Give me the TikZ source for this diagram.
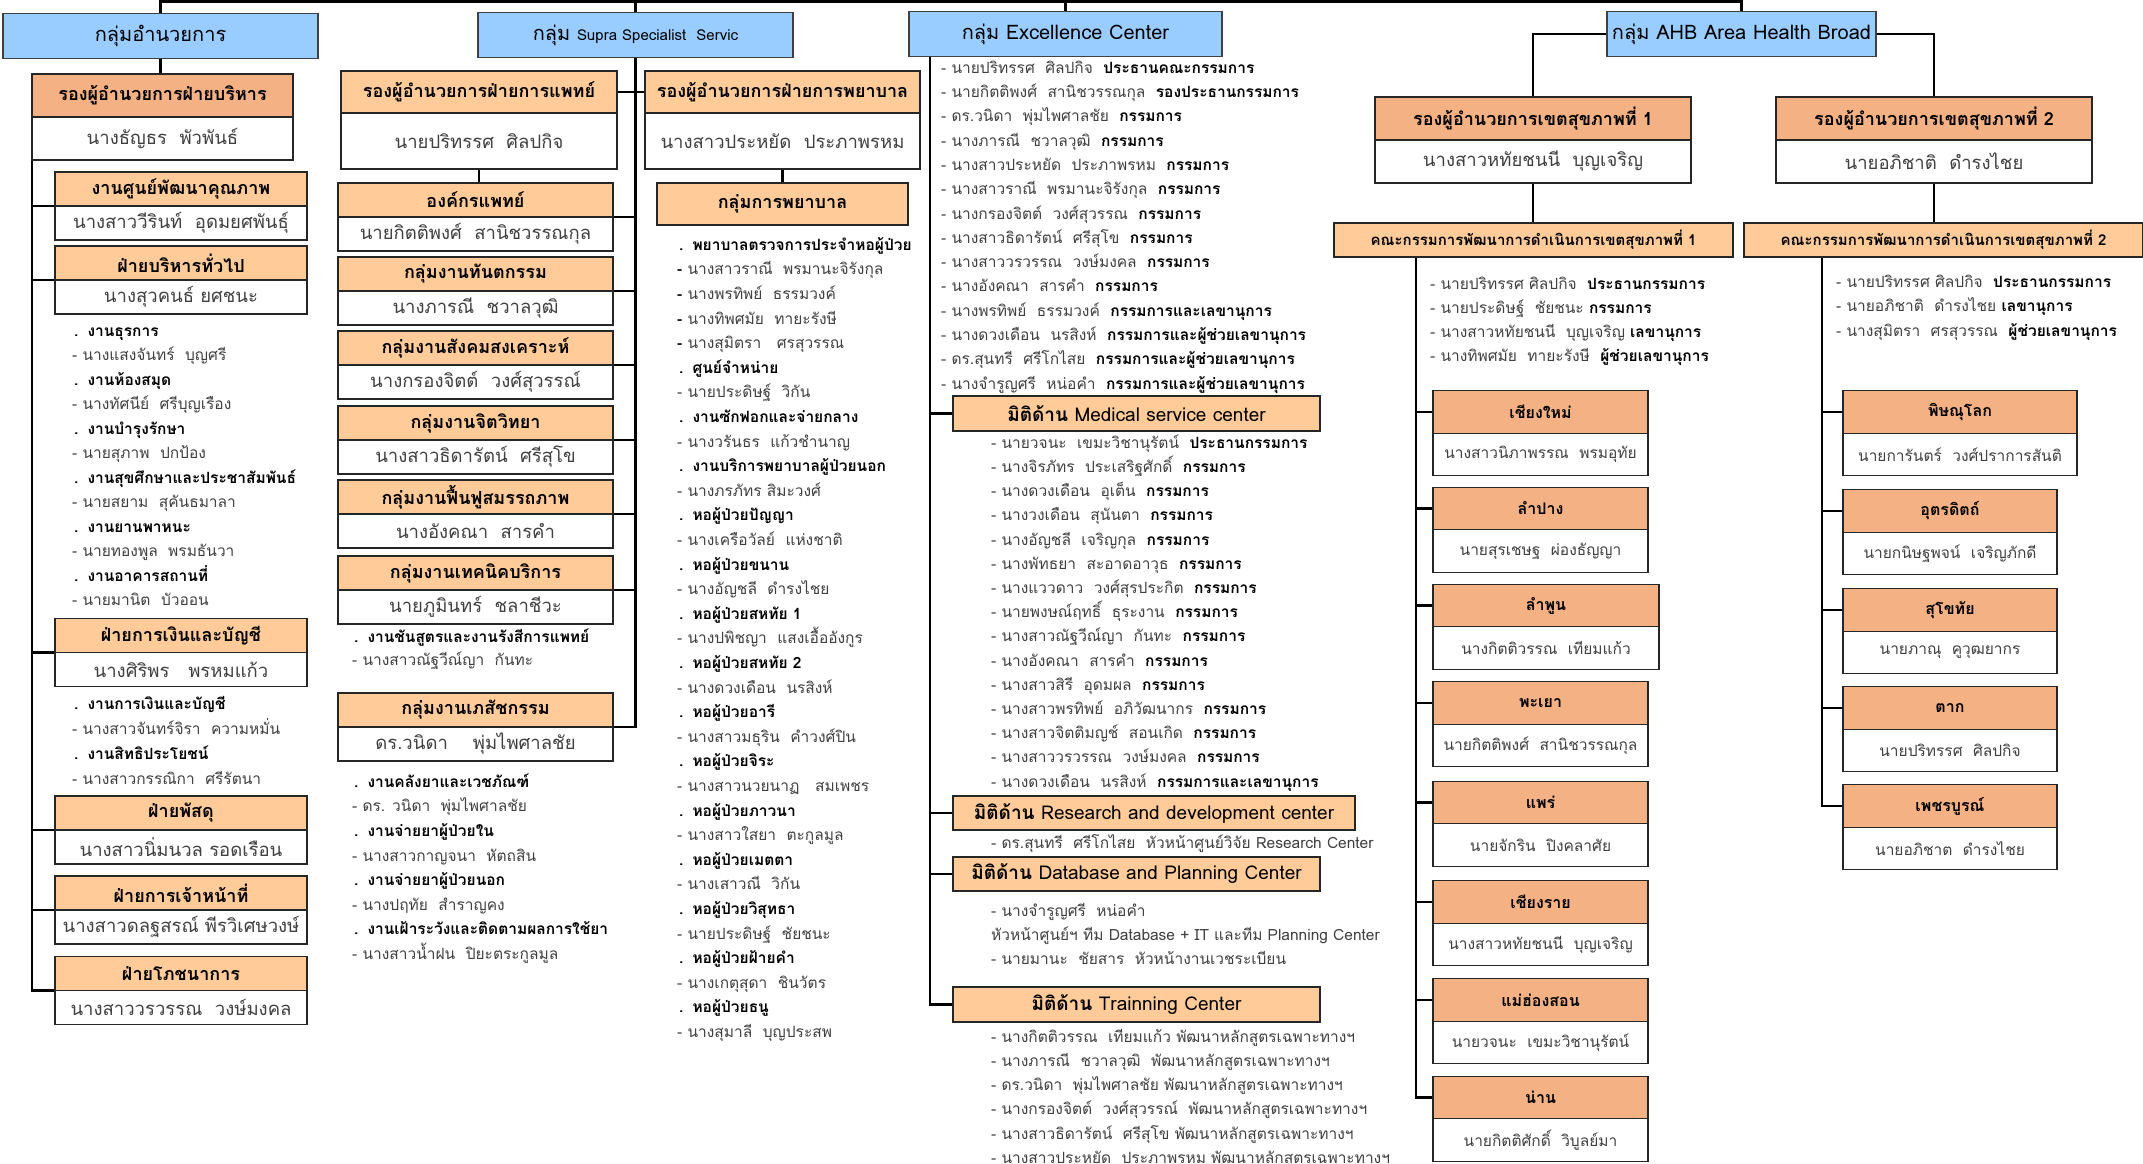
\documentclass[tikz,border=0pt]{standalone}
\usepackage{fontspec}
\setmainfont[Script=Thai]{Loma}
\usetikzlibrary{positioning,backgrounds}

\definecolor{grpblue}{HTML}{99CCFF}
\definecolor{hdlight}{HTML}{FFCC99}
\definecolor{hddark}{HTML}{F4B183}
\definecolor{txtgray}{HTML}{404040}

% fonts
\newcommand{\ttlfont}{\fontsize{20}{24}\selectfont}
\newcommand{\hdfont}{\fontsize{18}{22}\selectfont\bfseries}
\newcommand{\nmfont}{\fontsize{18.5}{22}\selectfont}
\newcommand{\dimfont}{\fontsize{19}{22}\selectfont}
\newcommand{\cmfont}{\fontsize{15}{18}\selectfont\bfseries}
\newcommand{\pvfont}{\fontsize{16}{20}\selectfont\bfseries}
\newcommand{\pnfont}{\fontsize{15.5}{20}\selectfont}
\newcommand{\lsfont}[1]{\fontsize{15.5}{#1}\selectfont}
\newcommand{\bk}[1]{\textcolor{black}{\textbf{#1}}}
\newcommand{\bul}{\hspace{2pt}\bk{.}\hspace{9pt}}
\newcommand{\fst}{\rule{0pt}{18pt}}

\begin{document}
\begin{tikzpicture}[x=1pt, y=-1pt,
  grpbox/.style={rectangle, draw=black!75, line width=1.2pt, fill=grpblue,
                 outer sep=0pt, inner sep=0pt, minimum height=45pt, font=\ttlfont},
  hdrbox/.style={rectangle, draw=black!85, line width=1.2pt, fill=hdlight,
                 outer sep=0pt, inner sep=0pt, font=\hdfont},
  hdrdark/.style={hdrbox, fill=hddark},
  namebox/.style={rectangle, draw=black!85, line width=1.2pt, fill=white,
                  outer sep=0pt, inner sep=0pt, text=txtgray, font=\nmfont},
  admsub/.style={minimum width=252pt, minimum height=34pt},
  medsub/.style={minimum width=275pt, minimum height=34pt},
  dimbox/.style={hdrbox, font=\dimfont, minimum height=35pt},
  provbox/.style={hdrdark, font=\pvfont, minimum height=42.5pt},
  provname/.style={namebox, font=\pnfont, minimum height=42.5pt},
  listtext/.style={anchor=north west, align=left, inner sep=0pt, text=txtgray},
  link/.style={line width=2.4pt, black}
  ]
\useasboundingbox (0,0) rectangle (2143,1163);

% group titles
\node[grpbox, minimum width=315pt] (Adm) at (160.5,36) {กลุ่มอำนวยการ};
\node[grpbox, minimum width=315pt] (Supra) at (635.5,35) {กลุ่ม {\fontsize{15}{18}\selectfont Supra Specialist~~Servic}};
\node[grpbox, minimum width=313pt] (Excel) at (1065.5,34) {กลุ่ม Excellence Center};
\node[grpbox, minimum width=269pt] (Ahb) at (1741.5,34) {กลุ่ม AHB Area Health Broad};

% administration
\node[hdrdark, minimum width=261pt, minimum height=43pt] (DepAdm) at (162.5,95.5) {รองผู้อำนวยการฝ่ายบริหาร};
\node[namebox, minimum width=261pt, minimum height=43pt, below=0pt of DepAdm] (DepAdmN) {นางธัญธร~~พัวพันธ์};

\node[hdrbox, admsub] (Qual) at (181,189) {งานศูนย์พัฒนาคุณภาพ};
\node[namebox, admsub, below=0pt of Qual] (QualN) {นางสาววีรินท์~~อุดมยศพันธุ์};
\node[hdrbox, admsub] (Gen) at (181,263) {ฝ่ายบริหารทั่วไป};
\node[namebox, admsub, below=0pt of Gen] (GenN) {นางสุวคนธ์ ยศชนะ};
\node[listtext, font={\lsfont{24.5}}] (GenList) at (72,318) {\fst\bul\bk{งานธุรการ}\\
- นางแสงจันทร์~~บุญศรี\\
\bul\bk{งานห้องสมุด}\\
- นางทัศนีย์~~ศรีบุญเรือง\\
\bul\bk{งานบำรุงรักษา}\\
- นายสุภาพ~~ปกป้อง\\
\bul\bk{งานสุขศึกษาและประชาสัมพันธ์}\\
- นายสยาม~~สุคันธมาลา\\
\bul\bk{งานยานพาหนะ}\\
- นายทองพูล~~พรมธันวา\\
\bul\bk{งานอาคารสถานที่}\\
- นายมานิต~~บัวออน};

\node[hdrbox, admsub] (Fin) at (181,635.5) {ฝ่ายการเงินและบัญชี};
\node[namebox, admsub, below=0pt of Fin] (FinN) {นางศิริพร~~~พรหมแก้ว};
\node[listtext, font={\lsfont{25}}] (FinList) at (72,691) {\fst\bul\bk{งานการเงินและบัญชี}\\
- นางสาวจันทร์จิรา~~ความหมั่น\\
\bul\bk{งานสิทธิประโยชน์}\\
- นางสาวกรรณิกา~~ศรีรัตนา};

\node[hdrbox, admsub] (Sup) at (181,813) {ฝ่ายพัสดุ};
\node[namebox, admsub, below=0pt of Sup] (SupN) {นางสาวนิ่มนวล รอดเรือน};
\node[hdrbox, admsub] (Hr) at (181,893) {ฝ่ายการเจ้าหน้าที่};
\node[namebox, admsub, below=0pt of Hr] (HrN) {นางสาวดลฐสรณ์ พีรวิเศษวงษ์};
\node[hdrbox, admsub] (Food) at (181,973.5) {ฝ่ายโภชนาการ};
\node[namebox, admsub, below=0pt of Food] (FoodN) {นางสาววรวรรณ~~วงษ์มงคล};

% medical
\node[hdrbox, minimum width=276pt, minimum height=42pt] (DepMed) at (479,92) {รองผู้อำนวยการฝ่ายการแพทย์};
\node[namebox, minimum width=276pt, minimum height=56pt, below=0pt of DepMed] (DepMedN) {นายปริทรรศ~~ศิลปกิจ};

\node[hdrbox, medsub] (Org) at (475.5,200) {องค์กรแพทย์};
\node[namebox, medsub, below=0pt of Org] (OrgN) {นายกิตติพงศ์~~สานิชวรรณกุล};
\node[hdrbox, medsub] (Dent) at (475.5,274) {กลุ่มงานทันตกรรม};
\node[namebox, medsub, below=0pt of Dent] (DentN) {นางภารณี~~ชวาลวุฒิ};
\node[hdrbox, medsub] (Soc) at (475.5,348) {กลุ่มงานสังคมสงเคราะห์};
\node[namebox, medsub, below=0pt of Soc] (SocN) {นางกรองจิตต์~~วงศ์สุวรรณ์};
\node[hdrbox, medsub] (Psy) at (475.5,423) {กลุ่มงานจิตวิทยา};
\node[namebox, medsub, below=0pt of Psy] (PsyN) {นางสาวธิดารัตน์~~ศรีสุโข};
\node[hdrbox, medsub] (Rehab) at (475.5,497) {กลุ่มงานฟื้นฟูสมรรถภาพ};
\node[namebox, medsub, below=0pt of Rehab] (RehabN) {นางอังคณา~~สารคำ};
\node[hdrbox, medsub] (Tech) at (475.5,573) {กลุ่มงานเทคนิคบริการ};
\node[namebox, medsub, below=0pt of Tech] (TechN) {นายภูมินทร์~~ชลาชีวะ};
\node[listtext, font={\lsfont{23}}] (TechList) at (352,624) {\fst\bul\bk{งานชันสูตรและงานรังสีการแพทย์}\\
- นางสาวณัฐวีณ์ญา~~กันทะ};
\node[hdrbox, medsub] (Pharm) at (475.5,710) {กลุ่มงานเภสัชกรรม};
\node[namebox, medsub, below=0pt of Pharm] (PharmN) {ดร.วนิดา~~~~พุ่มไพศาลชัย};
\node[listtext, font={\lsfont{24.6}}] (PharmList) at (352,769) {\fst\bul\bk{งานคลังยาและเวชภัณฑ์}\\
- ดร. วนิดา~~พุ่มไพศาลชัย\\
\bul\bk{งานจ่ายยาผู้ป่วยใน}\\
- นางสาวกาญจนา~~หัตถสิน\\
\bul\bk{งานจ่ายยาผู้ป่วยนอก}\\
- นางปฤทัย~~สำราญคง\\
\bul\bk{งานเฝ้าระวังและติดตามผลการใช้ยา}\\
- นางสาวน้ำฝน~~ปิยะตระกูลมูล};

% nursing
\node[hdrbox, minimum width=275pt, minimum height=42pt] (DepNur) at (782.5,92) {รองผู้อำนวยการฝ่ายการพยาบาล};
\node[namebox, minimum width=275pt, minimum height=56pt, below=0pt of DepNur] (DepNurN) {นางสาวประหยัด~~ประภาพรหม};
\node[hdrbox, minimum width=251pt, minimum height=42pt] (NurGrp) at (782.5,204) {กลุ่มการพยาบาล};
\node[listtext, font={\lsfont{24.6}}] (NurList) at (677,232) {\fst\bul\bk{พยาบาลตรวจการประจำหอผู้ป่วย}\\
\bk{-} นางสาวราณี~~พรมานะจิรังกุล\\
\bk{-} นางพรทิพย์~~ธรรมวงค์\\
\bk{-} นางทิพศมัย~~ทายะรังษี\\
\bk{-} นางสุมิตรา~~~ศรสุวรรณ\\
\bul\bk{ศูนย์จำหน่าย}\\
- นายประดิษฐ์~~วิกัน\\
\bul\bk{งานซักฟอกและจ่ายกลาง}\\
- นางวรันธร~~แก้วชำนาญ\\
\bul\bk{งานบริการพยาบาลผู้ป่วยนอก}\\
- นางภรภัทร สิมะวงศ์\\
\bul\bk{หอผู้ป่วยปัญญา}\\
- นางเครือวัลย์~~แห่งชาติ\\
\bul\bk{หอผู้ป่วยขนาน}\\
- นางอัญชลี~~ดำรงไชย\\
\bul\bk{หอผู้ป่วยสหทัย 1}\\
- นางปพิชญา~~แสงเอื้ออังกูร\\
\bul\bk{หอผู้ป่วยสหทัย 2}\\
- นางดวงเดือน~~นรสิงห์\\
\bul\bk{หอผู้ป่วยอารี}\\
- นางสาวมธุริน~~คำวงศ์ปิน\\
\bul\bk{หอผู้ป่วยจิระ}\\
- นางสาวนวยนาฏ~~~สมเพชร\\
\bul\bk{หอผู้ป่วยภาวนา}\\
- นางสาวใสยา~~ตะกูลมูล\\
\bul\bk{หอผู้ป่วยเมตตา}\\
- นางเสาวณี~~วิกัน\\
\bul\bk{หอผู้ป่วยวิสุทธา}\\
- นายประดิษฐ์~~ชัยชนะ\\
\bul\bk{หอผู้ป่วยฝ้ายคำ}\\
- นางเกตุสุดา~~ชินวัตร\\
\bul\bk{หอผู้ป่วยธนู}\\
- นางสุมาลี~~บุญประสพ};

% excellence center
\node[listtext, font={\lsfont{24.3}}] (ExList) at (941,55) {\fst- นายปริทรรศ~~ศิลปกิจ~~\bk{ประธานคณะกรรมการ}\\
- นายกิตติพงศ์~~สานิชวรรณกุล~~\bk{รองประธานกรรมการ}\\
- ดร.วนิดา~~พุ่มไพศาลชัย~~\bk{กรรมการ}\\
- นางภารณี~~ชวาลวุฒิ~~\bk{กรรมการ}\\
- นางสาวประหยัด~~ประภาพรหม~~\bk{กรรมการ}\\
- นางสาวราณี~~พรมานะจิรังกุล~~\bk{กรรมการ}\\
- นางกรองจิตต์~~วงศ์สุวรรณ~~\bk{กรรมการ}\\
- นางสาวธิดารัตน์~~ศรีสุโข~~\bk{กรรมการ}\\
- นางสาววรวรรณ~~วงษ์มงคล~~\bk{กรรมการ}\\
- นางอังคณา~~สารคำ~~\bk{กรรมการ}\\
- นางพรทิพย์~~ธรรมวงค์~~\bk{กรรมการและเลขานุการ}\\
- นางดวงเดือน~~นรสิงห์~~\bk{กรรมการและผู้ช่วยเลขานุการ}\\
- ดร.สุนทรี~~ศรีโกไสย~~\bk{กรรมการและผู้ช่วยเลขานุการ}\\
- นางจำรูญศรี~~หน่อคำ~~\bk{กรรมการและผู้ช่วยเลขานุการ}};

\node[dimbox, minimum width=367pt] (Med) at (1136.5,413.5) {\textbf{มิติด้าน} Medical service center};
\node[listtext, font={\lsfont{24.2}}] (MedList) at (991,430) {\fst- นายวจนะ~~เขมะวิชานุรัตน์~~\bk{ประธานกรรมการ}\\
- นางจิรภัทร~~ประเสริฐศักดิ์~~\bk{กรรมการ}\\
- นางดวงเดือน~~อุเต็น~~\bk{กรรมการ}\\
- นางวงเดือน~~สุนันตา~~\bk{กรรมการ}\\
- นางอัญชลี~~เจริญกุล~~\bk{กรรมการ}\\
- นางพัทธยา~~สะอาดอาวุธ~~\bk{กรรมการ}\\
- นางแววดาว~~วงศ์สุรประกิต~~\bk{กรรมการ}\\
- นายพงษณ์ฤทธิ์~~ธุระงาน~~\bk{กรรมการ}\\
- นางสาวณัฐวีณ์ญา~~กันทะ~~\bk{กรรมการ}\\
- นางอังคณา~~สารคำ~~\bk{กรรมการ}\\
- นางสาวสิรี~~อุดมผล~~\bk{กรรมการ}\\
- นางสาวพรทิพย์~~อภิวัฒนากร~~\bk{กรรมการ}\\
- นางสาวจิตติมญช์~~สอนเกิด~~\bk{กรรมการ}\\
- นางสาววรวรรณ~~วงษ์มงคล~~\bk{กรรมการ}\\
- นางดวงเดือน~~นรสิงห์~~\bk{กรรมการและเลขานุการ}};

\node[dimbox, minimum width=402pt, minimum height=34pt] (Res) at (1154,813) {\textbf{มิติด้าน} Research and development center};
\node[listtext, font={\lsfont{24}}] (ResList) at (991,830) {\fst- ดร.สุนทรี~~ศรีโกไสย~~หัวหน้าศูนย์วิจัย Research Center};

\node[dimbox, minimum width=367pt, minimum height=34pt] (Db) at (1136.5,874) {\textbf{มิติด้าน} Database and Planning Center};
\node[listtext, font={\lsfont{24}}] (DbList) at (991,898) {\fst- นางจำรูญศรี~~หน่อคำ\\
หัวหน้าศูนย์ฯ ทีม Database + IT และทีม Planning Center\\
- นายมานะ~~ชัยสาร~~หัวหน้างานเวชระเบียน};

\node[dimbox, minimum width=367pt] (Train) at (1136.5,1004.5) {\textbf{มิติด้าน} Trainning Center};
\node[listtext, font={\lsfont{24.2}}] (TrainList) at (991,1024) {\fst- นางกิตติวรรณ~~เทียมแก้ว พัฒนาหลักสูตรเฉพาะทางฯ\\
- นางภารณี~~ชวาลวุฒิ~~พัฒนาหลักสูตรเฉพาะทางฯ\\
- ดร.วนิดา~~พุ่มไพศาลชัย พัฒนาหลักสูตรเฉพาะทางฯ\\
- นางกรองจิตต์~~วงศ์สุวรรณ์~~พัฒนาหลักสูตรเฉพาะทางฯ\\
- นางสาวธิดารัตน์~~ศรีสุโข พัฒนาหลักสูตรเฉพาะทางฯ\\
- นางสาวประหยัด~~ประภาพรหม พัฒนาหลักสูตรเฉพาะทางฯ};

% health area 1
\node[hdrdark, minimum width=316pt, minimum height=43pt] (DepZa) at (1533,118.5) {รองผู้อำนวยการเขตสุขภาพที่ 1};
\node[namebox, minimum width=316pt, minimum height=43pt, below=0pt of DepZa] (DepZaN) {นางสาวหทัยชนนี~~บุญเจริญ};
\node[hdrbox, font=\cmfont, minimum width=399pt, minimum height=34pt] (ComA) at (1533.5,240) {คณะกรรมการพัฒนาการดำเนินการเขตสุขภาพที่ 1};
\node[listtext, font={\lsfont{24}}] (ComAList) at (1430,271) {\fst- นายปริทรรศ ศิลปกิจ~~\bk{ประธานกรรมการ}\\
- นายประดิษฐ์~~ชัยชนะ \bk{กรรมการ}\\
- นางสาวหทัยชนนี~~บุญเจริญ \bk{เลขานุการ}\\
- นางทิพศมัย~~ทายะรังษี~~\bk{ผู้ช่วยเลขานุการ}};

\node[provbox, minimum width=215pt] (Cmi) at (1540.5,412) {เชียงใหม่};
\node[provname, minimum width=215pt, below=0pt of Cmi] (CmiN) {นางสาวนิภาพรรณ~~พรมอุทัย};
\node[provbox, minimum width=215pt] (Lpg) at (1540.5,508.5) {ลำปาง};
\node[provname, minimum width=215pt, below=0pt of Lpg] (LpgN) {นายสุรเชษฐ~~ผ่องธัญญา};
\node[provbox, minimum width=226pt] (Lpn) at (1546,605.5) {ลำพูน};
\node[provname, minimum width=226pt, below=0pt of Lpn] (LpnN) {นางกิตติวรรณ~~เทียมแก้ว};
\node[provbox, minimum width=215pt] (Pyo) at (1540.5,703) {พะเยา};
\node[provname, minimum width=215pt, below=0pt of Pyo] (PyoN) {นายกิตติพงศ์~~สานิชวรรณกุล};
\node[provbox, minimum width=215pt] (Pre) at (1540.5,802.5) {แพร่};
\node[provname, minimum width=215pt, below=0pt of Pre] (PreN) {นายจักริน~~ปิงคลาศัย};
\node[provbox, minimum width=215pt] (Cri) at (1540.5,902) {เชียงราย};
\node[provname, minimum width=215pt, below=0pt of Cri] (CriN) {นางสาวหทัยชนนี~~บุญเจริญ};
\node[provbox, minimum width=215pt] (Mhs) at (1540.5,1000) {แม่ฮ่องสอน};
\node[provname, minimum width=215pt, below=0pt of Mhs] (MhsN) {นายวจนะ~~เขมะวิชานุรัตน์};
\node[provbox, minimum width=215pt] (Nan) at (1540.5,1097.5) {น่าน};
\node[provname, minimum width=215pt, below=0pt of Nan] (NanN) {นายกิตติศักดิ์~~วิบูลย์มา};

% health area 2
\node[hdrdark, minimum width=316pt, minimum height=43pt] (DepZb) at (1934,118.5) {รองผู้อำนวยการเขตสุขภาพที่ 2};
\node[namebox, minimum width=316pt, minimum height=43pt, below=0pt of DepZb] (DepZbN) {นายอภิชาติ~~ดำรงไชย};
\node[hdrbox, font=\cmfont, minimum width=399pt, minimum height=34pt] (ComB) at (1943.5,240) {คณะกรรมการพัฒนาการดำเนินการเขตสุขภาพที่ 2};
\node[listtext, font={\lsfont{24.5}}] (ComBList) at (1836,269) {\fst- นายปริทรรศ ศิลปกิจ~~\bk{ประธานกรรมการ}\\
- นายอภิชาติ~~ดำรงไชย \bk{เลขานุการ}\\
- นางสุมิตรา~~ศรสุวรรณ~~\bk{ผู้ช่วยเลขานุการ}};

\node[provbox, minimum width=234pt] (Plk) at (1960,412) {พิษณุโลก};
\node[provname, minimum width=234pt, below=0pt of Plk] (PlkN) {นายการันตร์~~วงศ์ปราการสันติ};
\node[provbox, minimum width=214pt] (Utt) at (1950,511) {อุตรดิตถ์};
\node[provname, minimum width=214pt, below=0pt of Utt] (UttN) {นายกนิษฐพจน์~~เจริญภักดี};
\node[provbox, minimum width=214pt] (Skt) at (1950,610) {สุโขทัย};
\node[provname, minimum width=214pt, below=0pt of Skt] (SktN) {นายภาณุ~~คูวุฒยากร};
\node[provbox, minimum width=214pt] (Tak) at (1950,708) {ตาก};
\node[provname, minimum width=214pt, below=0pt of Tak] (TakN) {นายปริทรรศ~~ศิลปกิจ};
\node[provbox, minimum width=214pt] (Pcb) at (1950,806) {เพชรบูรณ์};
\node[provname, minimum width=214pt, below=0pt of Pcb] (PcbN) {นายอภิชาต~~ดำรงไชย};

% connectors
\begin{scope}[on background layer]
\fill[white] (0,0) rectangle (2143,1163);
\coordinate (TopBar) at (0,1.5);
\draw[link] (Adm.north) -- (Adm.north |- TopBar) -- (Ahb.north |- TopBar) -- (Ahb.north);
\draw[link] (Excel.north |- TopBar) -- (Excel.north);
\draw[link] (Supra.north |- TopBar) -- (Supra.north);

\draw[link] (Adm.south) -- (Adm.south |- DepAdm.north);
\draw[link] (DepAdmN.south west) -- (DepAdmN.south west |- Food.south west) -- (Food.south west);
\draw[link] (Qual.south west) -- (Qual.south west -| DepAdmN.west);
\draw[link] (Gen.south west) -- (Gen.south west -| DepAdmN.west);
\draw[link] (Fin.south west) -- (Fin.south west -| DepAdmN.west);
\draw[link] (Sup.south west) -- (Sup.south west -| DepAdmN.west);
\draw[link] (Hr.south west) -- (Hr.south west -| DepAdmN.west);

\draw[link] (Supra.south) -- (Supra.south |- Pharm.south east) -- (Pharm.south east);
\draw[link] (DepMed.east) -- (DepNur.west);
\draw[link] (DepMedN.south) -- (DepMedN.south |- Org.north);
\draw[link] (DepNurN.south) -- (DepNurN.south |- NurGrp.north);
\draw[link] (Org.south east) -- (Org.south east -| Supra.south);
\draw[link] (Dent.south east) -- (Dent.south east -| Supra.south);
\draw[link] (Soc.south east) -- (Soc.south east -| Supra.south);
\draw[link] (Psy.south east) -- (Psy.south east -| Supra.south);
\draw[link] (Rehab.south east) -- (Rehab.south east -| Supra.south);
\draw[link] (Tech.south east) -- (Tech.south east -| Supra.south);

\draw[link] ([xshift=21pt]Excel.south west) coordinate (ExTop) -- (ExTop |- Train.west) -- (Train.west);
\draw[link] (Med.west) -- (Med.west -| ExTop);
\draw[link] (Res.west) -- (Res.west -| ExTop);
\draw[link] (Db.west) -- (Db.west -| ExTop);

\draw[link] (Ahb.west) -| (DepZa.north);
\draw[link] (Ahb.east) -| (DepZb.north);
\draw[link] (DepZaN.south) -- (DepZaN.south |- ComA.north);
\draw[link] (DepZbN.south) -- (DepZbN.south |- ComB.north);
\draw[link] ([xshift=82pt]ComA.south west) coordinate (ZaTop) -- (ZaTop |- Nan.west) -- (Nan.west);
\draw[link] (Cmi.west) -- (Cmi.west -| ZaTop);
\draw[link] (Lpg.west) -- (Lpg.west -| ZaTop);
\draw[link] (Lpn.west) -- (Lpn.west -| ZaTop);
\draw[link] (Pyo.west) -- (Pyo.west -| ZaTop);
\draw[link] (Pre.west) -- (Pre.west -| ZaTop);
\draw[link] (Cri.west) -- (Cri.west -| ZaTop);
\draw[link] (Mhs.west) -- (Mhs.west -| ZaTop);
\draw[link] ([xshift=78pt]ComB.south west) coordinate (ZbTop) -- (ZbTop |- Pcb.west) -- (Pcb.west);
\draw[link] (Plk.west) -- (Plk.west -| ZbTop);
\draw[link] (Utt.west) -- (Utt.west -| ZbTop);
\draw[link] (Skt.west) -- (Skt.west -| ZbTop);
\draw[link] (Tak.west) -- (Tak.west -| ZbTop);
\end{scope}

\end{tikzpicture}
\end{document}
